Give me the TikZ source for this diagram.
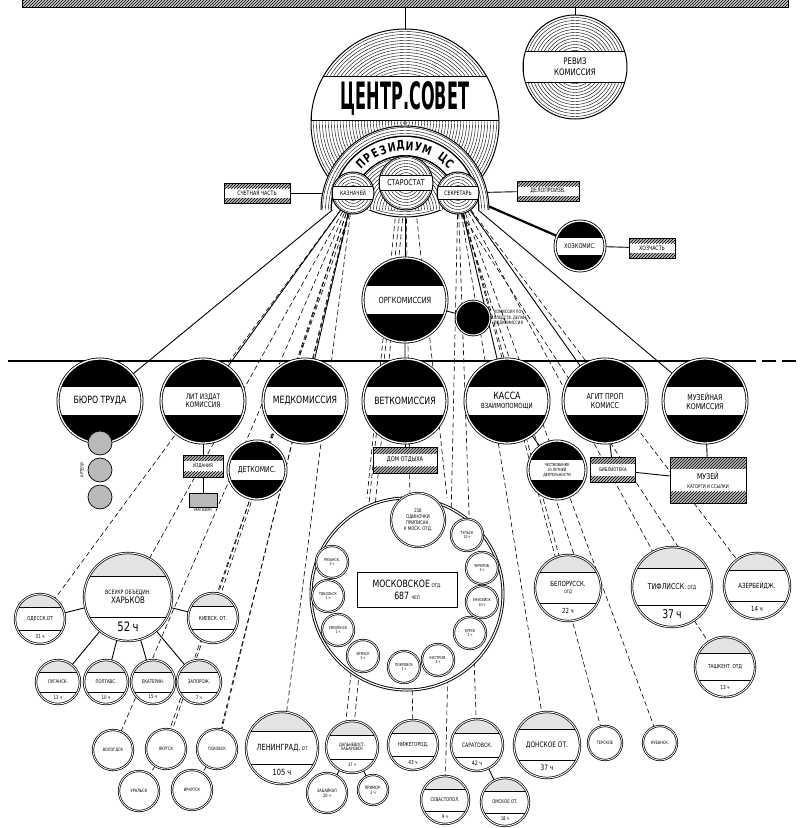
\documentclass[tikz,border=0pt]{standalone}
\usepackage{fontspec}
\setmainfont{DejaVu Sans}[FakeStretch=0.78]
\usepackage{graphicx}
\usepackage{tikz}
\usetikzlibrary{calc,patterns,positioning,backgrounds}

\tikzset{
	ringed/.style n args={3}{circle, draw, line width=1pt, fill=white, inner sep=0pt, minimum size=#1, align=center,
		path picture={
			\coordinate (b) at (path picture bounding box.south west);
			\coordinate (t) at (path picture bounding box.north east);
			\foreach \rr in {1.5,4.5,...,99} \draw[line width=.4pt] (path picture bounding box.center) circle[radius=\rr];
			\filldraw[fill=white, line width=.9pt] ($(b)!#2!(b|-t)$) rectangle ($(t|-b)!#3!(t)$);}},
	commis/.style={circle, draw, line width=.8pt, double=white, double distance=1.3pt, fill=black, inner sep=0pt,
		minimum size=#1, align=center, font=\fontsize{10}{11}\selectfont,
		path picture={
			\coordinate (b) at (path picture bounding box.south west);
			\coordinate (t) at (path picture bounding box.north east);
			\fill[white] ($(b)!.33!(b|-t)$) rectangle ($(t|-b)!.67!(t)$);}},
	branch/.style={circle, draw, line width=.7pt, double, double distance=.9pt, fill=white, inner sep=0pt,
		minimum size=#1, align=center,
		path picture={
			\coordinate (b) at (path picture bounding box.south west);
			\coordinate (t) at (path picture bounding box.north east);
			\fill[gray!22] ($(b)!.73!(b|-t)$) rectangle (t);
			\draw[line width=.7pt] ($(b)!.27!(b|-t)$) -- ($(t|-b)!.27!(t)$);
			\draw[line width=.7pt] ($(b)!.73!(b|-t)$) -- ($(t|-b)!.73!(t)$);}},
	small/.style={circle, draw, line width=.7pt, double, double distance=.8pt, fill=white, inner sep=0pt,
		minimum size=#1, align=center, font=\fontsize{4.5}{5}\selectfont},
	tabl/.style={rectangle, draw, line width=.8pt, fill=white, inner sep=0pt, minimum width=#1, minimum height=20pt,
		align=center, font=\fontsize{6}{7}\selectfont,
		path picture={
			\coordinate (b) at (path picture bounding box.south west);
			\coordinate (t) at (path picture bounding box.north east);
			\fill[gray!55] ($(b|-t)!.25!(b)$) rectangle (t);
			\fill[gray!55] (b) rectangle ($(t|-b)!.25!(t)$);
			\fill[pattern=north east lines] ($(b|-t)!.25!(b)$) rectangle (t);
			\fill[pattern=north east lines] (b) rectangle ($(t|-b)!.25!(t)$);}},
	link/.style={line width=.9pt},
	reach/.style={line width=.6pt, dash pattern=on 5pt off 3pt}
}

% branch office: name in the band, members below
\newcommand\otdel[6]{%
	\node[branch=#3, font=\fontsize{#4}{#4}\selectfont] (#1) at #2 {#5};
	\node[font=\fontsize{#4}{#4}\selectfont, inner sep=0pt] (#1-n) at ($(#1.center)!.68!(#1.south)$) {#6};}

\begin{document}
\begin{tikzpicture}[x=1pt,y=1pt]
	\useasboundingbox (0,0) rectangle (802,-828);

	% center
	\node[draw, line width=.9pt, fill=gray!45, postaction={pattern=north east lines}, minimum width=766pt, minimum height=9pt, inner sep=0pt] (obsh) at (405,-3) {};
	\node[ringed={188pt}{.516}{.75}] (centr) at (405,-123) {};
	\node (centr-t) at (405,-98) {\resizebox{128pt}{28pt}{\bfseries ЦЕНТР.СОВЕТ}};
	\begin{scope}
		\clip (321,-210) arc[start angle=180, end angle=0, radius=84] -- cycle;
		\fill[white] (321,-210) rectangle (489,-120);
		\foreach \rr in {1.5,4.5,...,86} \draw[line width=.4pt] (405,-210) circle[radius=\rr];
		\draw[line width=21pt] (405,-210) ++(180:64) arc[start angle=180, end angle=0, radius=64];
		\draw[white, line width=18pt] (405,-210) ++(180:64) arc[start angle=180, end angle=0, radius=64];
	\end{scope}
	\draw[line width=1pt] (321,-210) arc[start angle=180, end angle=0, radius=84];
	\foreach \ch [count=\k] in {П,Р,Е,З,И,Д,И,У,М,{},Ц,С}
		\node[rotate=134-(\k-1)*8-90, inner sep=0pt, font=\fontsize{12}{12}\selectfont\bfseries] (prez-\k)
			at ($(405,-210)+({134-(\k-1)*8}:64)$) {\ch};
	\node[ringed={42pt}{.34}{.66}, font=\fontsize{6}{7}\selectfont] (kazn) at (353,-193) {КАЗНАЧЕЙ};
	\node[ringed={54pt}{.36}{.64}, font=\fontsize{8}{8}\selectfont] (starost) at (406,-183) {СТАРОСТАТ};
	\node[ringed={42pt}{.34}{.66}, font=\fontsize{6}{7}\selectfont] (sekr) at (458,-193) {СЕКРЕТАРЬ};
	\node[ringed={104pt}{.35}{.65}, font=\fontsize{9}{11}\selectfont] (reviz) at (575,-67) {РЕВИЗ\\КОМИССИЯ};

	\node[tabl=66pt] (schet) at (257,-193) {СЧЕТНАЯ ЧАСТЬ};
	\node[tabl=62pt] (delo) at (548,-191) {ДЕЛОПРОИЗВ.};
	\node[commis=50pt, font=\fontsize{6.5}{7}\selectfont] (hozkom) at (580,-246) {ХОЗКОМИС.};
	\node[tabl=46pt] (hozch) at (652,-248) {ХОЗЧАСТЬ};
	\node[commis=84pt, font=\fontsize{8.5}{9}\selectfont] (orgkom) at (405,-300) {ОРГКОМИССИЯ};
	\node[circle, draw, line width=.8pt, double=white, double distance=1pt, fill=black, minimum size=34pt, inner sep=0pt] (sled) at (473,-318) {};
	\node[anchor=west, font=\fontsize{4.5}{5.5}\selectfont, align=left] (sled-t) at (sled.east) {КОМИССИЯ ПО\\СЛЕДСТВ. ДЕЛАМ\\ПОДКОМИССИЯ};

	% commissions
	\node[commis=84pt] (buro) at (100,-401) {БЮРО ТРУДА};
	\node[commis=84pt, font=\fontsize{7.5}{8.5}\selectfont] (litizd) at (203,-401) {ЛИТ ИЗДАТ\\КОМИССИЯ};
	\node[commis=84pt] (medkom) at (305,-401) {МЕДКОМИССИЯ};
	\node[commis=84pt] (vetkom) at (405,-401) {ВЕТКОМИССИЯ};
	\node[commis=84pt, font=\fontsize{7}{8.5}\selectfont] (kassa) at (507,-401) {{\fontsize{10}{10}\selectfont КАССА}\\ВЗАИМОПОМОЩИ};
	\node[commis=84pt, font=\fontsize{8}{9}\selectfont] (agit) at (605,-401) {АГИТ ПРОП\\КОМИСС};
	\node[commis=84pt, font=\fontsize{8}{9}\selectfont] (muzkom) at (705,-401) {МУЗЕЙНАЯ\\КОМИССИЯ};

	\foreach \i/\y in {1/443,2/470,3/497}
		\node[circle, draw, line width=.7pt, fill=gray!55, minimum size=24pt, inner sep=0pt] (buro-\i) at (100,-\y) {};
	\node[rotate=90, font=\fontsize{4.5}{5}\selectfont] (buro-t) at (82,-470) {АРТЕЛИ};
	\node[tabl=40pt, minimum height=22pt, font=\fontsize{5}{6}\selectfont] (izdan) at (203,-466) {ИЗДАНИЯ};
	\node[draw, line width=.7pt, fill=gray!55, minimum width=28pt, minimum height=14pt, inner sep=0pt] (magaz) at (203,-500) {};
	\node[below=1pt of magaz, font=\fontsize{4.5}{5}\selectfont, inner sep=0pt] (magaz-t) {МАГАЗИН};
	\node[commis=58pt, font=\fontsize{8}{9}\selectfont] (detkom) at (257,-470) {ДЕТКОМИС.};
	\node[tabl=64pt, minimum height=26pt, font=\fontsize{6.5}{7}\selectfont] (domotd) at (405,-460) {ДОМ ОТДЫХА};
	\node[commis=58pt, font=\fontsize{4.2}{5}\selectfont] (chestv) at (557,-470) {ЧЕСТВОВАНИЕ\\10 ЛЕТНЕЙ\\ДЕЯТЕЛЬНОСТИ};
	\node[tabl=45pt, minimum height=25pt, font=\fontsize{5}{5}\selectfont] (bibl) at (613,-470) {БИБЛИОТЕКА};
	\node[tabl=76pt, minimum height=46pt, font=\fontsize{8}{9}\selectfont] (muzej) at (708,-480) {МУЗЕЙ\\{\fontsize{5}{5}\selectfont КАТОРГИ И ССЫЛКИ}};

	% Kharkov group
	\otdel{kharkov}{(128,-597)}{88pt}{9}{{\fontsize{6}{7}\selectfont ВСЕУКР ОБЪЕДИН.}\\ХАРЬКОВ}{\fontsize{13}{13}\selectfont 52\,ч}
	\otdel{odess}{(40,-619)}{50pt}{5.5}{ОДЕССК.ОТ}{31 ч}
	\otdel{kiev}{(213,-618)}{50pt}{5.5}{КИЕВСК. ОТ.}{}
	\otdel{lugan}{(58,-682)}{44pt}{5}{ЛУГАНСК.}{13 ч}
	\otdel{poltav}{(106,-682)}{44pt}{5}{ПОЛТАВС.}{10 ч}
	\otdel{ekat}{(153,-682)}{44pt}{5}{ЕКАТЕРИН.}{15 ч}
	\otdel{zapor}{(199,-682)}{44pt}{5}{ЗАПОРОЖ.}{7 ч}
	\node[small=40pt] (volog) at (113,-750) {ВОЛОГДСК};
	\node[small=40pt] (yakut) at (166,-749) {ЯКУТСК};
	\node[small=40pt] (pskov) at (217,-749) {ПСКОВСК};
	\node[small=40pt] (ural) at (139,-791) {УРАЛЬСК};
	\node[small=40pt] (irkut) at (192,-790) {ИРКУТСК};

	% Moscow
	\node[circle, draw, line width=.9pt, double, double distance=1.2pt, fill=white, minimum size=192pt] (moskva) at (407,-594) {};
	\node[draw, line width=1pt, fill=white, minimum width=100pt, minimum height=35pt, align=center, font=\fontsize{10}{12}\selectfont] (moskva-t) at (407,-590) {МОСКОВСКОЕ\,{\fontsize{5}{5}\selectfont ОТД.}\\687 {\fontsize{5}{5}\selectfont ЧЕЛ}};
	\node[small=54pt, font=\fontsize{5}{6}\selectfont] (odin) at (418,-520) {216\\ОДИНОЧКИ\\ПРИПИСАН.\\К МОСК. ОТД.};
	\foreach \n/\p/\t in {ryaz/{332,-562}/РЯЗАНСК.\\3 ч, tobol/{328,-596}/ТОБОЛЬСК\\1 ч, smol/{338,-630}/СМОЛЕНСК\\1 ч,
		bryan/{363,-656}/БРЯНСК\\2 ч, pokr/{404,-667}/ПОКРОВСК\\1 ч, kostr/{438,-660}/КОСТРОМ.\\3 ч,
		kursk/{470,-633}/КУРСК\\2 ч, enis/{482,-602}/ЕНИСЕЙСК\\10 ч, cher/{482,-568}/ЧЕРЕПОВ.\\3 ч, tul/{467,-535}/ТУЛЬСК\\10 ч}
		\node[small=32pt, font=\fontsize{4}{4.5}\selectfont] (m-\n) at (\p) {\t};

	% bottom row
	\otdel{lening}{(282,-748)}{72pt}{8.5}{ЛЕНИНГРАД.\,{\fontsize{5}{5}\selectfont ОТ}}{105 ч}
	\otdel{dalnev}{(352,-747)}{52pt}{4.5}{ДАЛЬНЕВОСТ.\\ХАБАРОВСК}{37 ч}
	\node[small=40pt] (zabaik) at (327,-793) {ЗАБАЙКАЛ\\20 ч};
	\node[small=30pt] (primor) at (373,-790) {ПРИМОР.\\2 ч};
	\otdel{nizheg}{(413,-745)}{50pt}{5.5}{НИЖЕГОРОД.}{43 ч}
	\otdel{saratov}{(477,-745)}{52pt}{6}{САРАТОВСК.}{42 ч}
	\otdel{sevast}{(445,-800)}{48pt}{5}{СЕВАСТОПОЛ.}{9 ч}
	\otdel{omsk}{(505,-802)}{48pt}{5}{ОМСКОЕ ОТ.}{18 ч}
	\otdel{donsk}{(547,-745)}{66pt}{7.5}{ДОНСКОЕ ОТ.}{37 ч}
	\node[small=34pt] (tersk) at (605,-743) {ТЕРСКОЕ};
	\node[small=34pt] (kuban) at (660,-743) {КУБАНСК.};

	% right group
	\otdel{belor}{(568,-588)}{66pt}{7}{БЕЛОРУССК.\\{\fontsize{4.5}{5}\selectfont ОТД}}{22 ч}
	\otdel{tifl}{(672,-587)}{80pt}{8}{ТИФЛИССК.\,{\fontsize{5}{5}\selectfont ОТД}}{\fontsize{12}{12}\selectfont 37\,ч}
	\otdel{azerb}{(757,-586)}{66pt}{7}{АЗЕРБЕЙДЖ.}{14 ч}
	\otdel{tashk}{(725,-667)}{60pt}{5.5}{ТАШКЕНТ. ОТД}{13 ч}

	% connections
	\begin{scope}[on background layer]
		\draw[link] (obsh.south) -- (centr.north);
		\draw[link] (obsh.south -| reviz.north) -- (reviz.north);
		\draw[link] (schet) -- (kazn);
		\draw[link] (sekr) -- (delo);
		\draw[line width=2.2pt] (sekr) -- (hozkom);
		\draw[link] (hozkom) -- (hozch);
		\draw[link] (starost) -- (orgkom) -- (vetkom);
		\draw[link] (orgkom) -- (sled);
		\foreach \d in {buro,litizd,medkom} \draw[link] (kazn) -- (\d);
		\foreach \d in {kassa,agit,muzkom} \draw[link] (sekr) -- (\d);
		\draw[link] (litizd) -- (izdan) -- (magaz);
		\draw[link] (vetkom) -- (domotd);
		\draw[link] (kassa) -- (chestv);
		\draw[link] (agit) -- (bibl) -- (muzej);
		\draw[link] (muzkom) -- (muzej);
		\foreach \d in {odess,kiev,lugan,poltav,ekat,zapor} \draw[link] (kharkov) -- (\d);
		\draw[link] (dalnev) -- (zabaik);
		\draw[link] (dalnev) -- (primor);
		\draw[link] (saratov) -- (omsk);

		\foreach \d in {odess,kharkov,kiev,volog,yakut,pskov,lening} \draw[reach] (kazn) -- (\d);
		\draw[reach] ([xshift=-4pt]kazn.south) -- ([xshift=4pt]yakut.north);
		\draw[reach] ([xshift=-4pt]kazn.south) -- ([xshift=4pt]pskov.north);
		\foreach \d in {dalnev,nizheg} \draw[reach] (starost) -- (\d);
		\draw[reach] ([xshift=-10pt]starost.south) -- ([xshift=-40pt]moskva.north);
		\draw[reach] ([xshift=10pt]starost.south) -- ([xshift=40pt]moskva.north);
		\draw[reach] ([xshift=-6pt]starost.south) -- ([xshift=-6pt]dalnev.north);
		\foreach \d in {sevast,saratov,donsk,tersk,kuban,belor,tifl,azerb} \draw[reach] (sekr) -- (\d);
		\draw[reach] ([xshift=4pt]sekr.south) -- ([xshift=6pt]belor.north);
		\draw[reach] ([xshift=4pt]sekr.south) -- ([xshift=6pt]tifl.north);
		\draw[reach] (tifl) -- (tashk);
		\draw[reach] (yakut) -- (ural);
		\draw[reach] (pskov) -- (irkut);

		\coordinate (hor-w) at (8,-361);
		\coordinate (hor-e) at (742,-361);
		\coordinate (hor-e2) at (800,-361);
		\draw[line width=1.8pt] (hor-w) -- (hor-e);
		\draw[line width=1.5pt, dash pattern=on 14pt off 6pt] (hor-e) -- (hor-e2);
	\end{scope}
\end{tikzpicture}
\end{document}
